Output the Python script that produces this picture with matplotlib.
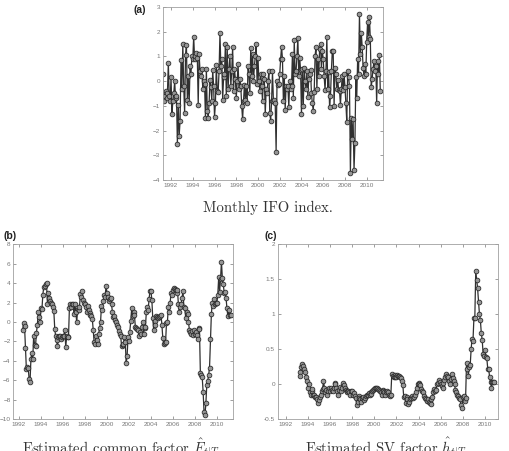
import numpy as np
import matplotlib
matplotlib.use("Agg")
import matplotlib.pyplot as plt

plt.rcParams["mathtext.fontset"] = "cm"

# monthly IFO index, Apr 1991 .. Apr 2011
ifo = [
    0.3, -0.8, -0.6, -0.4, -0.7, -0.5, 0.75, -0.6, -0.8,                 # 1991
    0.15, -1.35, -0.8, -0.5, 0.0, -0.7, -0.6, -2.55, -0.95, -2.2, -1.6, 0.85,
    -0.3, 1.5, -0.2, -1.3, 1.05, 1.45, -0.75, 0.2, -0.9, 0.6, 0.3, 1.0,
    0.9, 1.8, 0.9, 1.0, 1.15, 0.95, -0.95, 1.1, 0.4, 0.2, 0.5, -0.3,
    0.0, -0.1, -1.5, 0.5, -1.2, -1.5, -0.9, 0.05, -0.25, -0.8, 0.45, -0.2,
    -1.45, -0.9, 0.65, -0.4, -0.45, 0.4, 1.95, 0.6, 0.9, -0.75, 0.15, 0.3,
    1.5, -0.6, 1.4, -0.3, 0.5, 1.0, -0.2, 0.4, 1.4, -0.4, 0.5, 0.1,
    -0.7, 0.0, 0.7, -0.3, 0.1, -0.2, -1.0, -1.55, -0.8, -0.15, -0.75, -0.2,
    -0.9, 0.6, 0.3, -0.5, 1.35, 0.2, 1.1, 0.0, 0.6, 1.0, 1.5, -0.1,
    0.95, 0.0, -0.4, 0.3, -0.2, -0.8, 0.3, 0.1, -1.35, -0.3, -0.5, 0.0,
    0.4, -1.3, -1.6, -0.8, 0.4, -0.8, -0.75, -0.9, -2.85, 0.0, -0.15, -0.1,
    0.3, 0.9, 1.4, 0.9, -0.8, 0.2, -1.15, -0.2, -0.3, -0.2, -1.05, 0.0,
    -0.3, -0.2, 1.1, -0.7, 1.65, 0.3, 0.4, 1.0, 1.75, 0.2, 0.95, 0.45,
    -1.35, 0.5, -1.0, 0.55, 0.0, -0.3, 0.4, -0.65, 0.1, 0.3, 0.45, -0.5,
    -0.9, -1.2, -0.45, 1.0, 1.4, -0.3, 0.9, 0.2, 1.3, 1.5, 0.5, 1.2,
    0.9, 0.2, -0.35, 0.4, 1.8, -0.3, 0.35, -1.05, -0.6, 0.4, 1.2, 1.2,
    -1.0, 0.55, 0.3, -0.3, 0.05, -0.35, -0.4, -0.95, -0.3, 0.2, -0.35, 0.3,
    -0.25, -0.9, -1.65, 0.4, 0.15, -0.2, -3.7, -1.5, -2.35, -1.55, -3.6, -2.5,
    0.15, -0.7, 0.9, 0.3, 2.7, 1.1, 1.95, 1.4, 0.55, 0.2, 0.7, 0.3,
    1.6, 2.4, 1.8, 2.6, 1.7, -0.25, 0.1, 0.5, 0.8, 0.4, 0.6, -0.9,
    0.8, 0.3, 1.05, -0.4,                                                 # 2011
]
ifo_start = 1991 + 3 / 12

# estimated common factor, May 1992 .. Apr 2011
factor = [
    -0.8, -0.1, -0.4, -2.7, -4.8, -4.6, -4.7, -5.9,                        # 1992
    -6.2, -3.8, -3.2, -3.8, -1.4, -2.4, -2.5, -1.1, -0.3, 1.0, 0.5, 0.0,
    1.4, 1.3, 2.8, 3.6, 3.7, 3.9, 4.0, 1.9, 3.0, 2.5, 2.2, 2.0,
    1.8, 1.5, 1.1, -0.7, -1.5, -1.9, -2.5, -1.6, -1.4, -1.5, -1.8, -1.6,
    -1.5, -1.4, -0.8, -2.6, -1.5, -1.6, -1.6, 1.4, 1.9, 1.5, 1.9, 1.8,
    0.8, 1.9, 1.0, 0.0, 1.3, 1.2, 1.5, 2.9, 2.6, 3.2, 2.3, 2.0,
    1.8, 1.5, 1.0, 1.6, 1.2, 0.9, 0.7, 0.6, 0.3, -0.8, -2.1, -2.3,
    -1.5, -1.9, -2.3, -1.2, -0.6, 0.0, 1.6, 1.2, 2.2, 2.8, 2.6, 3.7,
    3.0, 2.6, 2.2, 2.4, 2.5, 1.8, 1.0, 0.5, 0.6, 0.2, 0.0, -0.3,
    -0.5, -0.9, -1.2, -1.5, -2.5, -2.4, -2.3, -1.6, -2.1, -4.2, -3.5, -1.6,
    -2.0, -1.0, 0.1, 1.4, 0.6, 1.0, 0.7, -0.5, -0.6, -0.7, -0.8, -1.5,
    -1.0, -1.2, -0.5, 0.0, -1.2, -0.6, -0.5, 1.0, 1.5, 1.2, 2.4, 3.2,
    3.2, 2.3, 0.4, -0.8, 0.1, -0.3, 0.6, 0.5, 0.4, 0.5, 0.6, 0.7,
    -0.3, -1.7, -2.3, -2.2, -2.1, -0.1, 0.0, 1.5, 1.0, 2.0, 3.0, 2.8,
    3.3, 3.5, 3.4, 3.3, 3.0, 3.3, 1.8, 1.0, 1.5, 1.9, 2.5, 3.2,
    1.5, 1.4, 0.4, 1.0, 0.8, 0.0, -0.8, -1.0, -1.2, -0.9, -1.3, -0.8,
    -1.2, -1.0, -1.3, -1.8, -0.6, -0.7, -5.3, -5.5, -5.7, -7.2, -9.3, -9.6,
    -8.4, -6.5, -6.1, -5.5, -4.7, -1.8, 0.8, 2.0, 1.6, 2.4, 1.8, 2.0,
    2.0, 2.8, 4.6, 3.1, 4.4, 6.2, 4.5, 3.9, 3.0, 3.1, 2.5, 1.4,
    0.6, 1.2, 0.7, 0.7,                                                   # 2011
]
factor_start = 1992 + 4 / 12

# estimated SV factor, Apr 1993 .. Nov 2010
sv = [
    0.17, 0.12, 0.25, 0.28, 0.26, 0.22, 0.17, 0.1, 0.05,                  # 1993
    -0.05, 0.0, -0.12, -0.15, -0.1, -0.07, -0.15, -0.16, -0.18, -0.19, -0.22, -0.27,
    -0.23, -0.18, -0.15, -0.1, -0.07, 0.04, -0.05, -0.12, -0.08, -0.15, -0.1, -0.05,
    -0.1, -0.05, -0.08, -0.1, -0.05, 0.02, 0.0, -0.05, -0.1, -0.15, -0.08, -0.04,
    -0.1, -0.05, 0.02, -0.02, -0.05, -0.08, -0.1, -0.12, -0.1, -0.12, -0.15, -0.1,
    -0.1, -0.15, -0.13, -0.17, -0.2, -0.3, -0.25, -0.17, -0.2, -0.22, -0.25, -0.2,
    -0.19, -0.23, -0.2, -0.17, -0.15, -0.16, -0.13, -0.15, -0.12, -0.14, -0.1, -0.09,
    -0.07, -0.05, -0.06, -0.05, -0.07, -0.08, -0.1, -0.12, -0.15, -0.09, -0.1, -0.12,
    -0.15, -0.12, -0.1, -0.12, -0.15, -0.17, -0.15, 0.14, 0.12, 0.1, 0.13, 0.1,
    0.1, 0.13, 0.11, 0.12, 0.1, 0.08, 0.05, -0.02, -0.19, -0.17, -0.27, -0.19,
    -0.22, -0.28, -0.25, -0.22, -0.2, -0.17, -0.2, -0.19, -0.15, -0.12, -0.05, 0.0,
    0.01, 0.0, -0.01, -0.07, -0.1, -0.12, -0.17, -0.2, -0.22, -0.24, -0.22, -0.25,
    -0.27, -0.29, -0.22, -0.18, -0.12, -0.07, -0.1, -0.08, 0.0, 0.02, 0.06, 0.03,
    0.0, -0.03, -0.05, 0.02, 0.06, 0.1, 0.14, 0.12, 0.1, 0.05, 0.0, 0.07,
    0.14, 0.09, 0.05, 0.0, -0.09, -0.12, -0.15, -0.17, -0.2, -0.22, -0.3, -0.34,
    -0.19, -0.17, -0.24, -0.2, 0.3, 0.22, 0.12, 0.25, 0.27, 0.5, 0.65, 0.62,
    0.94, 0.95, 1.62, 1.49, 1.37, 1.18, 1.0, 0.92, 0.73, 0.63, 0.43, 0.4,
    0.49, 0.39, 0.37, 0.22, 0.22, 0.1, 0.03, -0.05, 0.03, 0.03, 0.03,       # 2010
]
sv_start = 1993 + 3 / 12

year_ticks = list(range(1992, 2011, 2))

LINE = "#303030"
FACE = "#959595"
GREY = "#777777"


def style_axes(ax, yticks, xlim, ylim):
    ax.set_xlim(xlim)
    ax.set_ylim(ylim)
    ax.set_xticks(year_ticks)
    ax.set_yticks(yticks)
    ax.tick_params(direction="in", top=True, right=True, length=2.5, width=0.5,
                   colors=GREY, labelsize=4.6, pad=2)
    for lab in ax.get_xticklabels() + ax.get_yticklabels():
        lab.set_fontfamily("Liberation Sans")
    for sp in ax.spines.values():
        sp.set_color("#a0a0a0")
        sp.set_linewidth(0.6)


def draw_series(ax, start, values):
    t = start + np.arange(len(values)) / 12
    ax.plot(t, values, color=LINE, lw=0.9, marker="o", ms=3.4,
            mfc=FACE, mec="#252525", mew=0.55)


fig = plt.figure(figsize=(5.1, 4.51), dpi=100)

ax_a = fig.add_axes([0.3196, 0.6009, 0.4314, 0.3836])
draw_series(ax_a, ifo_start, ifo)
style_axes(ax_a, range(-4, 4), (1991.26, 2011.5), (-4, 3))

ax_b = fig.add_axes([0.0261, 0.0710, 0.4308, 0.3873])
draw_series(ax_b, factor_start, factor)
style_axes(ax_b, range(-10, 9, 2), (1991.48, 2011.47), (-10, 8))

ax_c = fig.add_axes([0.5445, 0.0710, 0.4314, 0.3873])
draw_series(ax_c, sv_start, sv)
style_axes(ax_c, [-0.5, 0, 0.5, 1, 1.5, 2], (1991.28, 2011.15), (-0.5, 2))
ax_c.set_yticklabels(["-0.5", "0", "0.5", "1", "1.5", "2"])

# panel letters
fig.text(0.262, 0.977, "(a)", fontsize=7.5, fontweight="bold", family="Liberation Sans",
         ha="left", va="center", color="#222222")
fig.text(0.006, 0.477, "(b)", fontsize=7.5, fontweight="bold", family="Liberation Sans",
         ha="left", va="center", color="#222222")
fig.text(0.519, 0.477, "(c)", fontsize=7.5, fontweight="bold", family="Liberation Sans",
         ha="left", va="center", color="#222222")

# captions (the lower two run off the bottom edge, as in the source figure)
fig.text(0.526, 0.530, "Monthly IFO index.", fontsize=10.6, family="cmr10",
         ha="center", va="baseline", color="#333333")
fig.text(0.044, -0.006, r"Estimated common factor $\hat{F}_{t|T}$", fontsize=10.6,
         family="cmr10", ha="left", va="baseline", color="#333333")
fig.text(0.598, -0.006, r"Estimated SV factor $\hat{h}_{t|T}$", fontsize=10.6,
         family="cmr10", ha="left", va="baseline", color="#333333")

fig.savefig("out.png", dpi=100)
